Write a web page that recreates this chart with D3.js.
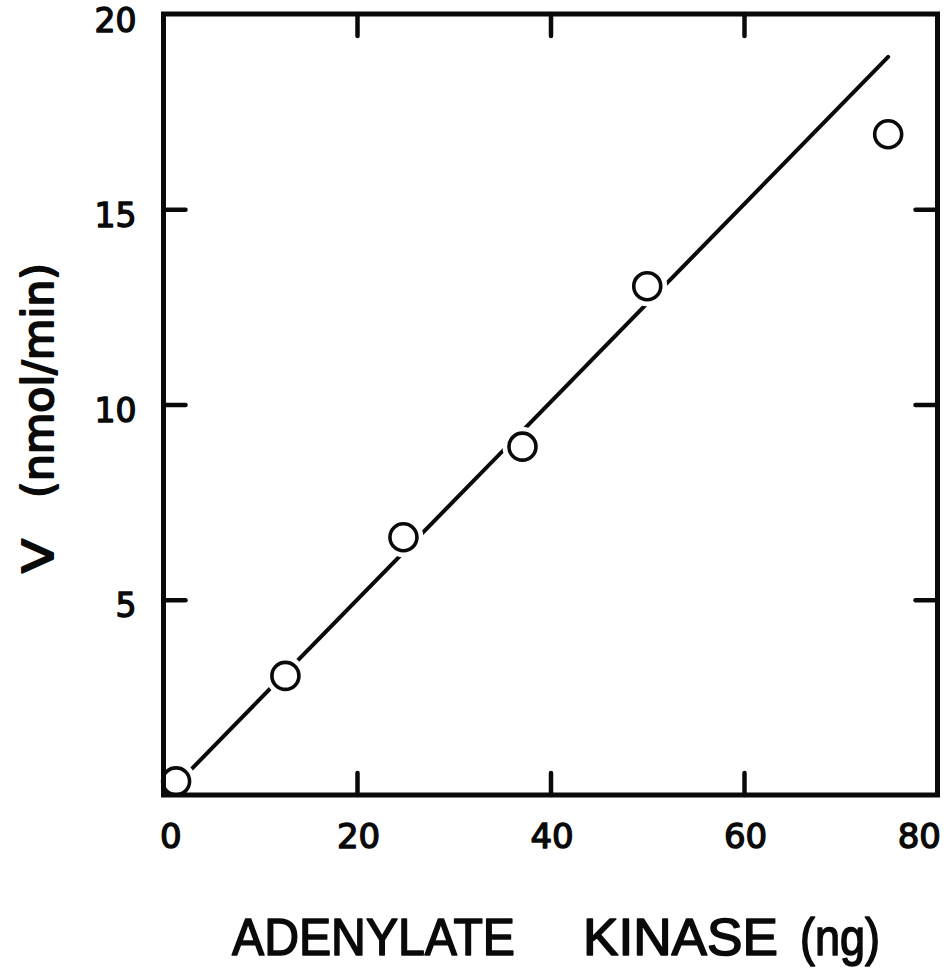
<!DOCTYPE html>
<html>
<head>
<meta charset="utf-8">
<script src="https://cdn.jsdelivr.net/npm/d3@7"></script>
<style>
  html, body { margin: 0; padding: 0; background: #fff; }
  svg { display: block; }
</style>
</head>
<body>
<svg id="chart" width="948" height="968"></svg>
<script>
// Adenylate kinase amount (ng) vs. rate V (nmol/min)
const amountNg = [1.3, 12.6, 24.8, 37.1, 50.0, 74.9];
const rateV = [0.35, 3.05, 6.6, 8.92, 13.03, 16.92];

// Fitted straight line, drawn between these two ends
const fitX = [1.3, 74.9];
const fitY = [0.26, 18.9];

const xTickValues = [0, 20, 40, 60, 80];
const yTickValues = [5, 10, 15, 20];
const xInnerTicks = [20, 40, 60];
const yInnerTicks = [5, 10, 15];

const xTitleWords = ["ADENYLATE", "KINASE", "(ng)"];
const yTitleWords = ["V", "(nmol/min)"];

const svg = d3.select("#chart");
const plotLeft = 163.5, plotRight = 937.5, plotTop = 14, plotBottom = 795;

const x = d3.scaleLinear().domain([0, 80]).range([plotLeft, plotRight]);
const y = d3.scaleLinear().domain([0, 20]).range([plotBottom, plotTop]);

const ink = "#0a0a0a";

// fitted line
svg.append("path")
  .datum(fitX.map((v, i) => [v, fitY[i]]))
  .attr("d", d3.line().x(d => x(d[0])).y(d => y(d[1])))
  .attr("fill", "none")
  .attr("stroke", ink)
  .attr("stroke-width", 4)
  .attr("stroke-linecap", "round");

const pts = amountNg.map((v, i) => ({ xv: v, yv: rateV[i] }));

// white gaps where the line meets each marker
svg.append("g").selectAll("circle").data(pts).join("circle")
  .attr("cx", d => x(d.xv))
  .attr("cy", d => y(d.yv))
  .attr("r", 20)
  .attr("fill", "#fff");

// open circle markers
svg.append("g").selectAll("circle").data(pts).join("circle")
  .attr("cx", d => x(d.xv))
  .attr("cy", d => y(d.yv))
  .attr("r", 13.5)
  .attr("fill", "#fff")
  .attr("stroke", ink)
  .attr("stroke-width", 3.6);

// frame
svg.append("rect")
  .attr("x", plotLeft).attr("y", plotTop)
  .attr("width", plotRight - plotLeft).attr("height", plotBottom - plotTop)
  .attr("fill", "none")
  .attr("stroke", ink)
  .attr("stroke-width", 5);

// inward ticks on all four sides
const tickLen = 22;
function tickAxis(axis, tx, ty) {
  const g = svg.append("g").attr("transform", `translate(${tx},${ty})`).call(axis);
  g.select(".domain").remove();
  g.selectAll(".tick line")
    .attr("stroke", ink)
    .attr("stroke-width", 4.5)
    .attr("stroke-linecap", "round");
  g.selectAll(".tick text").remove();
  return g;
}
tickAxis(d3.axisBottom(x).tickValues(xInnerTicks).tickSize(-tickLen), 0, plotBottom);
tickAxis(d3.axisTop(x).tickValues(xInnerTicks).tickSize(-tickLen), 0, plotTop);
tickAxis(d3.axisLeft(y).tickValues(yInnerTicks).tickSize(-tickLen), plotLeft, 0);
tickAxis(d3.axisRight(y).tickValues(yInnerTicks).tickSize(-tickLen), plotRight, 0);

// medium-weight lettering: regular face thickened with a thin outline
function medium(sel, w) {
  sel.attr("fill", ink)
    .attr("stroke", ink)
    .attr("stroke-width", w)
    .attr("stroke-linejoin", "round");
}

const labelFont = "'DejaVu Sans', sans-serif";

// x tick labels
const xl = svg.append("g").attr("transform", `translate(0,${plotBottom})`)
  .call(d3.axisBottom(x).tickValues(xTickValues).tickSize(0).tickPadding(0).tickFormat(d3.format("d")));
xl.select(".domain").remove();
xl.selectAll(".tick text")
  .attr("y", 53)
  .attr("dy", null)
  .style("font-family", labelFont)
  .style("font-size", "34px")
  .attr("text-anchor", d => d === 0 ? "start" : d === 80 ? "end" : "middle")
  .attr("x", d => d === 0 ? -4 : d === 80 ? 3 : 1)
  .call(medium, 1.4);

// y tick labels
const yl = svg.append("g").attr("transform", `translate(${plotLeft},0)`)
  .call(d3.axisLeft(y).tickValues(yTickValues).tickSize(0).tickPadding(0).tickFormat(d3.format("d")));
yl.select(".domain").remove();
yl.selectAll(".tick text")
  .attr("x", -27)
  .attr("y", 17)
  .attr("dy", null)
  .style("font-family", labelFont)
  .style("font-size", "33px")
  .attr("text-anchor", "end")
  .call(medium, 1.4);

// x axis title, three words spaced out
const titleFont = "'Liberation Sans Narrow', 'Liberation Sans', Arial, sans-serif";
const wordSpans = [[232, 283], [583, 195], [800, 80]];
xTitleWords.forEach((w, i) => {
  svg.append("text")
    .attr("x", wordSpans[i][0])
    .attr("y", 955)
    .attr("textLength", wordSpans[i][1])
    .attr("lengthAdjust", "spacingAndGlyphs")
    .style("font-family", titleFont)
    .style("font-size", "52px")
    .text(w)
    .call(medium, 1.6);
});

// y axis title, rotated, two parts with a wide gap
const yTitleSpans = [[573, 34], [498, 235]];
yTitleWords.forEach((w, i) => {
  svg.append("text")
    .attr("transform", `translate(53,${yTitleSpans[i][0]}) rotate(-90)`)
    .attr("x", 0).attr("y", 0)
    .attr("textLength", yTitleSpans[i][1])
    .attr("lengthAdjust", "spacingAndGlyphs")
    .style("font-family", "'DejaVu Sans', sans-serif")
    .style("font-size", "43px")
    .text(w)
    .call(medium, 2);
});
</script>
</body>
</html>
